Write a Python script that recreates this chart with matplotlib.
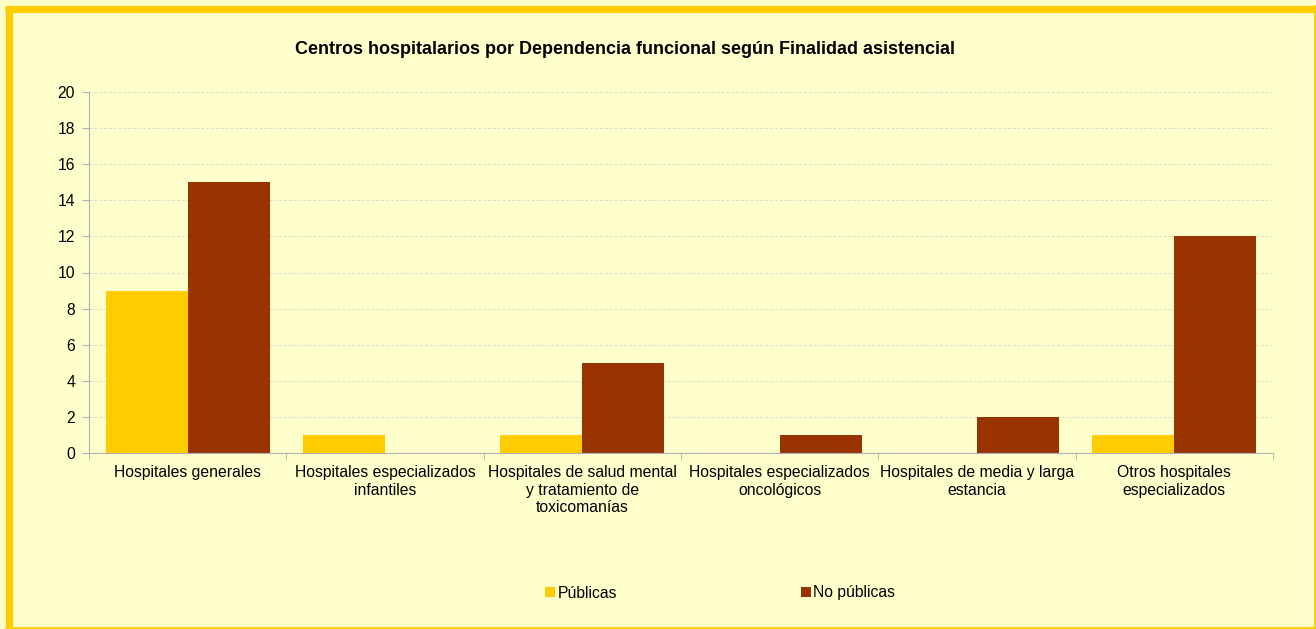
import numpy as np
import matplotlib.pyplot as plt
from matplotlib import patches, lines

plt.rcParams['font.family'] = ['Liberation Sans', 'DejaVu Sans']

categories = ["Hospitales generales",
              "Hospitales especializados\ninfantiles",
              "Hospitales de salud mental\ny tratamiento de\ntoxicomanías",
              "Hospitales especializados\noncológicos",
              "Hospitales de media y larga\nestancia",
              "Otros hospitales\nespecializados"]
publicas = [9, 1, 1, 0, 0, 1]
no_publicas = [15, 0, 5, 1, 2, 12]
series_names = ["Públicas", "No públicas"]

W, H = 1316, 629
fig = plt.figure(figsize=(W / 100, H / 100), dpi=100, facecolor='#FFFFCC')

# frame round the chart
fig.add_artist(lines.Line2D([8.5 / W, 8.5 / W], [0, 1 - 8.5 / H], color='#FFCC00', lw=5.2,
                            transform=fig.transFigure, solid_capstyle='butt'))
fig.add_artist(lines.Line2D([5 / W, 1], [1 - 8.5 / H, 1 - 8.5 / H], color='#FFCC00', lw=5.2,
                            transform=fig.transFigure, solid_capstyle='butt'))
fig.add_artist(lines.Line2D([1 - 1.5 / W, 1 - 1.5 / W], [0, 1 - 6 / H], color='#FFCC00', lw=2,
                            transform=fig.transFigure))
fig.add_artist(lines.Line2D([6 / W, 1], [1.0 / H, 1.0 / H], color='#FFCC00', lw=2,
                            transform=fig.transFigure))

ax = fig.add_axes([89 / W, 1 - 453 / H, (1273 - 89) / W, (453 - 92) / H])
ax.set_facecolor('#FFFFCC')

x = np.arange(len(categories))
bw = 0.415
b1 = ax.bar(x - bw / 2, publicas, bw, color='#FFCC00', label=series_names[0])
b2 = ax.bar(x + bw / 2, no_publicas, bw, color='#993300', label=series_names[1])

ax.set_xlim(-0.5, len(categories) - 0.5)
ax.set_ylim(0, 20)
ax.set_yticks(range(0, 21, 2))
ax.yaxis.grid(True, color='#DCDCCC', linestyle=(0, (3, 2)), linewidth=0.7)
ax.set_axisbelow(True)

ax.set_xticks(x)
ax.set_xticklabels(categories, fontsize=11.3, linespacing=1.2)
ax.set_xticks(np.arange(-0.5, len(categories)), minor=True)
ax.tick_params(axis='x', which='major', length=0, pad=9)
ax.tick_params(axis='x', which='minor', length=5, color='#B0B0B0')
ax.tick_params(axis='y', length=5, color='#B0B0B0', labelsize=11.3, pad=5)

for s in ['top', 'right']:
    ax.spines[s].set_visible(False)
for s in ['left', 'bottom']:
    ax.spines[s].set_color('#B0B0B0')

fig.text(625 / W, 1 - 50 / H, "Centros hospitalarios por Dependencia funcional según Finalidad asistencial",
         ha='center', va='center', fontsize=13, fontweight='bold')

fig.legend(handles=[b1, b2], loc='center', bbox_to_anchor=(720 / W, 1 - 593 / H), ncol=2,
           frameon=False, fontsize=11.3, handlelength=0.65, handleheight=0.65, handletextpad=0.15,
           columnspacing=11.7)

fig.savefig('out.png', dpi=100, facecolor=fig.get_facecolor())
